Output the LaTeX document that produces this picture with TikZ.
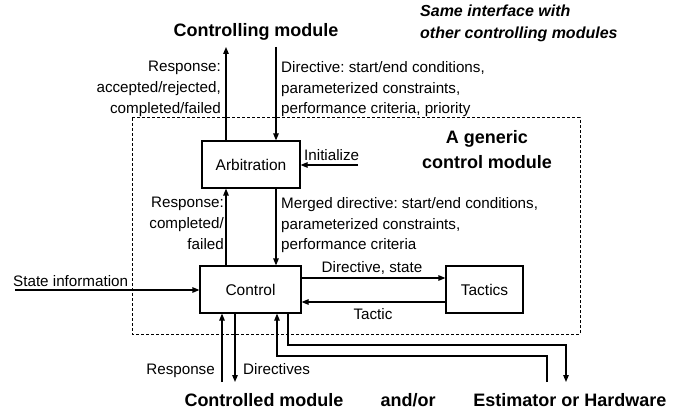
\documentclass[tikz,border=0pt]{standalone}
\usepackage{fontspec}
\setmainfont{Liberation Sans}
\usetikzlibrary{arrows.meta}
\frenchspacing
\begin{document}
\begin{tikzpicture}[x=1pt,y=-1pt,
  lbl/.style={font=\fontsize{15.2}{20.8}\selectfont, inner sep=0pt},
  ttl/.style={font=\fontsize{18}{25}\selectfont\bfseries, inner sep=0pt},
  box/.style={draw, line width=1.2pt, inner sep=0pt, font=\fontsize{15.5}{21}\selectfont},
  arr/.style={line width=1.2pt, -{Triangle[length=7pt,width=5.5pt]}},
  frame/.style={line width=1pt, dash pattern=on 3pt off 2pt}]
\useasboundingbox (0,0) rectangle (694,417);
% dashed frame
\draw[frame] (132,118) rectangle (580,334);
% boxes
\node[box, minimum width=98pt, minimum height=47pt] (arb) at (251,164.5) {Arbitration};
\node[box, minimum width=101pt, minimum height=47pt] (ctrl) at (250.5,289.5) {Control};
\node[box, minimum width=77pt, minimum height=47pt] (tac) at (484.5,289.5) {Tactics};
% texts
\node[ttl, anchor=base] (tcm) at (256,37) {Controlling module};
\node[font=\fontsize{16}{21.5}\selectfont\bfseries\itshape, align=left, anchor=north west, inner sep=0pt] (same) at (420,5) {Same interface with\\other controlling modules};
\node[lbl, align=right, anchor=north east] (resp1) at (221,61) {Response:\\accepted/rejected,\\completed/failed};
\node[lbl, align=left, anchor=north west] (dir1) at (281,61) {Directive: start/end conditions,\\parameterized constraints,\\performance criteria, priority};
\node[ttl, align=center, anchor=north] (gen) at (487,130) {A generic\\control module};
\node[lbl, anchor=base west] (init) at (304,161) {Initialize};
\node[lbl, align=right, anchor=north east] (resp2) at (224,197) {Response:\\completed/\\failed};
\node[lbl, align=left, anchor=north west] (dir2) at (281,197) {Merged directive: start/end conditions,\\parameterized constraints,\\performance criteria};
\node[lbl, anchor=base west] (state) at (13,286) {State information};
\node[lbl, anchor=base] (dirst) at (372,272) {Directive, state};
\node[lbl, anchor=base] (tactic) at (373,319) {Tactic};
\node[lbl, anchor=base east] (resp3) at (215,374) {Response};
\node[lbl, anchor=base west] (dirs) at (243,374) {Directives};
\node[ttl, anchor=base] (cdm) at (264,406) {Controlled module};
\node[ttl, anchor=base] (andor) at (408,406) {and/or};
\node[ttl, anchor=base] (est) at (570,406) {Estimator or Hardware};
% connectors
\coordinate (cmUp) at (226,47);
\coordinate (cmDn) at (276,47);
\draw[arr] (arb.north -| cmUp) -- (cmUp);
\draw[arr] (cmDn) -- (arb.north -| cmDn);
\draw[arr] (ctrl.north -| cmUp) -- (arb.south -| cmUp);
\draw[arr] (arb.south -| cmDn) -- (ctrl.north -| cmDn);
\coordinate (initS) at (358,165);
\draw[arr] (initS) -- (arb.east |- initS);
\coordinate (stS) at (15,290);
\draw[arr] (stS) -- (ctrl.west |- stS);
\coordinate (yDS) at (0,278);
\coordinate (yT) at (0,302);
\draw[arr] (ctrl.east |- yDS) -- (tac.west |- yDS);
\draw[arr] (tac.west |- yT) -- (ctrl.east |- yT);
\coordinate (rspB) at (222,382);
\coordinate (dirB) at (235,382);
\draw[arr] (rspB) -- (ctrl.south -| rspB);
\draw[arr] (ctrl.south -| dirB) -- (dirB);
\coordinate (estIn) at (566,382);
\coordinate (estOut) at (547,382);
\coordinate (xo) at (288,345);
\coordinate (xi) at (277,356);
\draw[arr] (ctrl.south -| xo) |- (estIn |- xo) -- (estIn);
\draw[arr] (estOut) -- (estOut |- xi) -| (ctrl.south -| xi);
\end{tikzpicture}
\end{document}
